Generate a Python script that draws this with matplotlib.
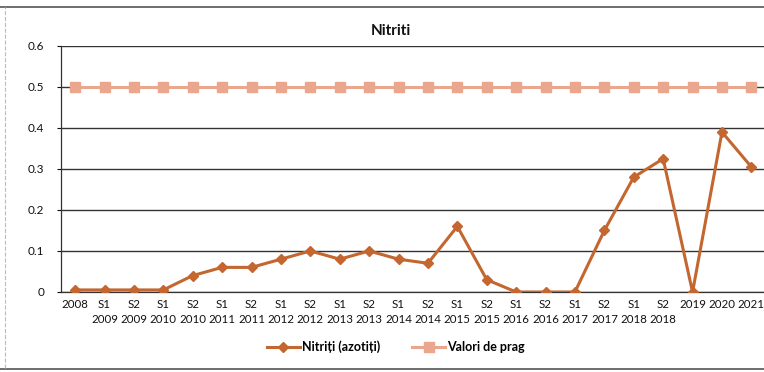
import matplotlib.pyplot as plt
from matplotlib.lines import Line2D

plt.rcParams['font.family'] = ['Lato', 'DejaVu Sans']

# Sampling periods (semesters where split) and measured nitrite values
periods = ['2008', 'S1\n2009', 'S2\n2009', 'S1\n2010', 'S2\n2010', 'S1\n2011', 'S2\n2011',
           'S1\n2012', 'S2\n2012', 'S1\n2013', 'S2\n2013', 'S1\n2014', 'S2\n2014',
           'S1\n2015', 'S2\n2015', 'S1\n2016', 'S2\n2016', 'S1\n2017', 'S2\n2017',
           'S1\n2018', 'S2\n2018', '2019', '2020', '2021']
nitriti = [0.005, 0.005, 0.005, 0.005, 0.04, 0.06, 0.06, 0.08, 0.10, 0.08, 0.10, 0.08,
           0.07, 0.16, 0.03, 0.0, 0.0, 0.0, 0.15, 0.28, 0.325, 0.0, 0.39, 0.305]
prag = [0.5] * len(periods)
y_ticks = [0, 0.1, 0.2, 0.3, 0.4, 0.5, 0.6]
y_labels = ['0', '0.1', '0.2', '0.3', '0.4', '0.5', '0.6']

fig = plt.figure(figsize=(7.64, 3.72), dpi=100)
ax = fig.add_axes([0.080, 0.2151, 0.920, 0.6613])

x = list(range(len(periods)))
ax.plot(x, nitriti, color='#C4662F', lw=2.2, marker='D', markersize=5.5,
        label='Nitriți (azotiți)', zorder=4)
ax.plot(x, prag, color='#EBA78D', lw=2.2, marker='s', markersize=7,
        label='Valori de prag', zorder=3)

ax.set_xlim(-0.476, 23.43)
ax.set_ylim(0, 0.6)
ax.set_yticks(y_ticks)
ax.set_yticklabels(y_labels)
ax.set_xticks(x)
ax.set_xticklabels(periods, linespacing=1.45)
ax.tick_params(axis='y', length=3, width=0.8, labelsize=8.5, pad=9, colors='#111111')
ax.tick_params(axis='x', length=0, labelsize=8.3, pad=5, colors='#111111')

ax.grid(axis='y', color='#333333', lw=1.0)
ax.set_axisbelow(True)
for side in ['top', 'right']:
    ax.spines[side].set_visible(False)
ax.spines['left'].set_color('#333333')
ax.spines['bottom'].set_color('#333333')
ax.spines['left'].set_linewidth(0.9)
ax.spines['bottom'].set_linewidth(0.9)

fig.text(0.512, 0.918, 'Nitriti', ha='center', va='center', fontsize=11,
         fontweight='bold', color='#111111')

fig.legend(loc='center', bbox_to_anchor=(0.518, 0.068), ncol=2, frameon=False,
           prop={'size': 9, 'weight': 'bold'}, handlelength=2.6,
           columnspacing=2.6, handletextpad=0.15)

# page frame around the chart
fig.add_artist(Line2D([0, 1], [0.981, 0.981], color='#555555', lw=1.2))
fig.add_artist(Line2D([0, 1], [0.008, 0.008], color='#555555', lw=1.2))
fig.add_artist(Line2D([0.006, 0.006], [0.01, 0.98], color='#bbbbbb', lw=0.8, ls='--'))

fig.savefig('out.png', dpi=100)
